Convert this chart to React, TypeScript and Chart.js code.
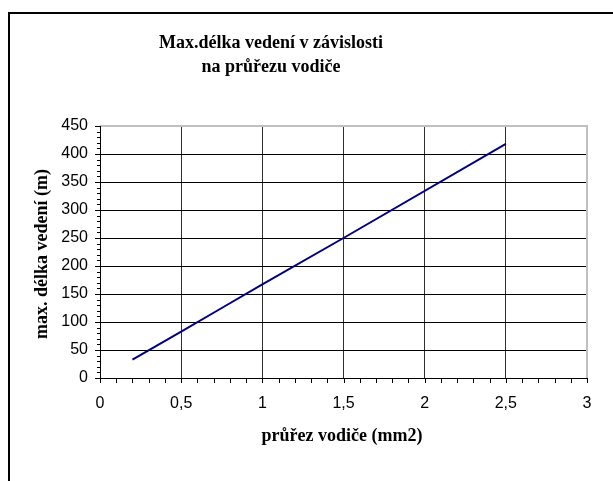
import React, { useEffect, useRef } from "react";
import { Chart, registerables } from "chart.js";

Chart.register(...registerables);

const titleLines = ["Max.délka vedení v závislosti", "na průřezu vodiče"];
const xTitle = "průřez vodiče (mm2)";
const yTitle = "max. délka vedení (m)";
const xValues = [0.2, 0.5, 0.75, 1, 1.5, 2.5];
const yValues = [33, 83, 125, 167, 250, 418];
const xTickLabels = ["0", "0,5", "1", "1,5", "2", "2,5", "3"];

const W = 613;
const H = 481;

const decor = {
  id: "decor",
  beforeDraw(chart: any) {
    const ctx = chart.ctx;
    ctx.save();
    ctx.fillStyle = "#ffffff";
    ctx.fillRect(0, 0, W, H);
    ctx.restore();
  },
  afterDraw(chart: any) {
    const ctx = chart.ctx;
    const a = chart.chartArea;
    const xs = chart.scales.x;
    const ys = chart.scales.y;
    ctx.save();
    // frame
    ctx.strokeStyle = "#000";
    ctx.lineWidth = 2;
    ctx.beginPath();
    ctx.moveTo(9, H + 5);
    ctx.lineTo(9, 13);
    ctx.lineTo(W + 5, 13);
    ctx.stroke();
    // plot border top/right gray
    ctx.lineWidth = 2;
    ctx.strokeStyle = "#c0c0c0";
    ctx.beginPath();
    ctx.moveTo(a.left, a.top);
    ctx.lineTo(a.right, a.top);
    ctx.lineTo(a.right, a.bottom);
    ctx.stroke();
    // axes
    ctx.lineWidth = 1;
    ctx.strokeStyle = "#000";
    ctx.beginPath();
    ctx.moveTo(Math.round(a.left) + 0.5, a.top);
    ctx.lineTo(Math.round(a.left) + 0.5, a.bottom + 0.5);
    ctx.lineTo(a.right, a.bottom + 0.5);
    ctx.stroke();
    // ticks
    ctx.beginPath();
    for (let v = 0; v <= 450; v += 10) {
      const y = Math.round(ys.getPixelForValue(v)) + 0.5;
      const len = v % 50 === 0 ? 5 : 3;
      ctx.moveTo(a.left, y);
      ctx.lineTo(a.left - len, y);
    }
    for (let i = 0; i <= 30; i++) {
      const x = Math.round(xs.getPixelForValue(i / 10)) + 0.5;
      ctx.moveTo(x, a.bottom);
      ctx.lineTo(x, a.bottom + 5);
    }
    ctx.stroke();
    // texts
    ctx.fillStyle = "#000";
    ctx.textAlign = "center";
    ctx.textBaseline = "middle";
    ctx.font = "bold 18px 'Liberation Serif', 'Times New Roman', serif";
    ctx.fillText(titleLines[0], 271, 43);
    ctx.fillText(titleLines[1], 271, 67);
    ctx.fillText(xTitle, 342, 436);
    ctx.translate(42, 254);
    ctx.rotate(-Math.PI / 2);
    ctx.fillText(yTitle, 0, 0);
    ctx.restore();
  },
};

export default function App() {
  const ref = useRef<HTMLCanvasElement>(null);
  useEffect(() => {
    if (!ref.current) return;
    const chart = new Chart(ref.current, {
      type: "scatter",
      data: {
        datasets: [
          {
            data: xValues.map((x, i) => ({ x, y: yValues[i] })),
            showLine: true,
            borderColor: "#000080",
            backgroundColor: "#000080",
            borderWidth: 2,
            pointRadius: 0,
            tension: 0,
          },
        ],
      },
      options: {
        responsive: false,
        animation: false,
        devicePixelRatio: 1,
        layout: { padding: { left: 0, right: 26, top: 126, bottom: 0 } },
        plugins: {
          legend: { display: false },
          tooltip: { enabled: false },
          title: { display: false },
        },
        scales: {
          x: {
            type: "linear",
            min: 0,
            max: 3,
            afterFit: (s: any) => {
              s.height = 103;
            },
            ticks: {
              stepSize: 0.5,
              padding: 16,
              color: "#000",
              font: { family: "'Liberation Sans', Arial, sans-serif", size: 16 },
              callback: (v: any) => {
                const idx = Math.round(Number(v) * 2);
                return xTickLabels[idx] ?? "";
              },
            },
            grid: {
              drawTicks: false,
              color: (c: any) =>
                c.tick && (c.tick.value === 0 || c.tick.value === 3) ? "rgba(0,0,0,0)" : "#303030",
              lineWidth: 1,
            },
            border: { display: false },
          },
          y: {
            type: "linear",
            min: 0,
            max: 450,
            afterFit: (s: any) => {
              s.width = 100;
            },
            ticks: {
              stepSize: 50,
              padding: 12,
              color: "#000",
              font: { family: "'Liberation Sans', Arial, sans-serif", size: 16 },
            },
            grid: {
              drawTicks: false,
              color: (c: any) =>
                c.tick && (c.tick.value === 0 || c.tick.value === 450) ? "rgba(0,0,0,0)" : "#000",
              lineWidth: 1,
            },
            border: { display: false },
          },
        },
      },
      plugins: [decor],
    });
    return () => chart.destroy();
  }, []);
  return (
    <div style={{ position: "fixed", left: 0, top: 0, width: W, height: H }}>
      <canvas ref={ref} width={W} height={H} style={{ display: "block" }} />
    </div>
  );
}
